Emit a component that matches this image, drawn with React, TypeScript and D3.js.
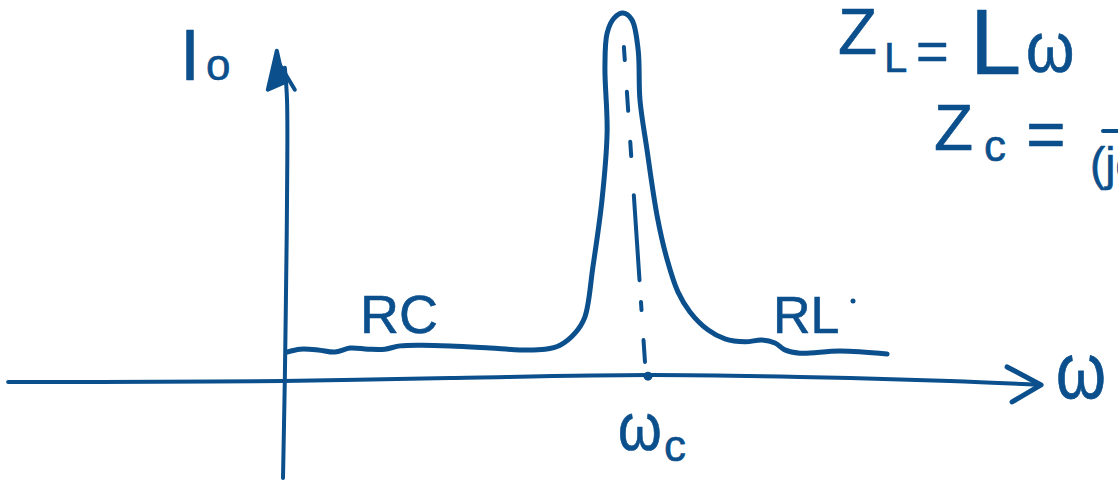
import React from "react";
import * as d3 from "d3";

// ω in units of ωc, I in units of the resonance peak
const curveOmega = [0.011, 0.047, 0.096, 0.142, 0.184, 0.233, 0.279, 0.321, 0.375, 0.458, 0.567, 0.649, 0.718, 0.759, 0.8, 0.827, 0.849, 0.874, 0.888, 0.882, 0.888, 0.907, 0.932, 0.956, 0.973, 0.978, 0.997, 1.025, 1.052, 1.082, 1.115, 1.164, 1.211, 1.266, 1.312, 1.348, 1.375, 1.416, 1.526, 1.655];
const curveI = [0.071, 0.079, 0.077, 0.071, 0.082, 0.079, 0.079, 0.088, 0.09, 0.088, 0.082, 0.077, 0.079, 0.09, 0.123, 0.167, 0.304, 0.488, 0.674, 0.852, 0.945, 0.986, 1.0, 0.981, 0.899, 0.762, 0.627, 0.444, 0.326, 0.236, 0.181, 0.132, 0.107, 0.099, 0.104, 0.096, 0.077, 0.068, 0.074, 0.066];

// hand-drawn axes (same units)
const xAxisOmega = [-0.753, -0.5, 0, 0.458, 1.0, 1.416, 1.827, 2.077];
const xAxisI = [-0.011, -0.011, -0.008, 0.0, 0.008, 0.003, -0.008, -0.019];
const yAxisOmega = [0.0, 0.003, 0.005, 0.008, 0.011, 0.011, 0.005];
const yAxisI = [-0.274, -0.115, -0.005, 0.214, 0.488, 0.762, 0.85];

// dashed marker at ωc: segments given as I ranges
const dashStartI = [0.907, 0.784, 0.647, 0.501, 0.208, 0.104];
const dashEndI = [0.871, 0.732, 0.608, 0.268, 0.186, 0.044];

const INK = "#0b4f8c";
const W = 1118;
const H = 481;

export default function App() {
  const x = d3.scaleLinear().domain([0, 1]).range([283, 648]);
  const y = d3.scaleLinear().domain([0, 1]).range([378, 13]);

  const curvePts: [number, number][] = curveOmega.map((w, i) => [x(w), y(curveI[i])]);
  const xAxisPts: [number, number][] = xAxisOmega.map((w, i) => [x(w), y(xAxisI[i])]);
  const yAxisPts: [number, number][] = yAxisOmega.map((w, i) => [x(w), y(yAxisI[i])]);

  const line = d3.line().curve(d3.curveCatmullRom.alpha(0.5));

  // dash line from near the peak (ω≈0.934) down to the axis (ω≈0.995)
  const dashX = d3.scaleLinear().domain([0.907, -0.005]).range([x(0.934), x(0.995)]);

  const tipX = xAxisPts[xAxisPts.length - 1];
  const tipY = yAxisPts[yAxisPts.length - 1];

  const font = "'Liberation Sans', 'DejaVu Sans', sans-serif";
  const textProps = { fill: INK, stroke: INK, strokeWidth: 0.6, strokeLinejoin: "round" as const, fontFamily: font };

  return (
    <svg width={W} height={H} style={{ position: "absolute", left: 0, top: 0, background: "#fff" }}>
      {/* x axis */}
      <path d={line(xAxisPts) || ""} fill="none" stroke={INK} strokeWidth={4} strokeLinecap="round" />
      <path
        d={`M${tipX[0] - 34},${tipX[1] - 18} L${tipX[0]},${tipX[1]} L${tipX[0] - 29},${tipX[1] + 17}`}
        fill="none" stroke={INK} strokeWidth={5} strokeLinecap="round" strokeLinejoin="round"
      />
      {/* y axis */}
      <path d={line(yAxisPts) || ""} fill="none" stroke={INK} strokeWidth={4} strokeLinecap="round" />
      <path
        d={`M${tipY[0] - 8},${tipY[1] - 17} L${tipY[0] - 17},${tipY[1] + 22} L${tipY[0] - 1},${tipY[1] + 15} Z`}
        fill={INK} stroke={INK} strokeWidth={4} strokeLinejoin="round"
      />
      <path
        d={`M${tipY[0] - 8},${tipY[1] - 8} L${tipY[0] + 10},${tipY[1] + 22}`}
        fill="none" stroke={INK} strokeWidth={4} strokeLinecap="round"
      />

      {/* resonance curve */}
      <path d={line(curvePts) || ""} fill="none" stroke={INK} strokeWidth={5} strokeLinecap="round" strokeLinejoin="round" />

      {/* dashed line at ωc */}
      {dashStartI.map((s, i) => (
        <line key={i} x1={dashX(s)} y1={y(s)} x2={dashX(dashEndI[i])} y2={y(dashEndI[i])}
          stroke={INK} strokeWidth={4} strokeLinecap="round" />
      ))}
      <circle cx={x(1)} cy={y(0.005)} r={4.5} fill={INK} />

      {/* labels */}
      <text x={180} y={80} {...textProps}>
        <tspan fontSize={72}>I</tspan>
        <tspan fontSize={44} dx={6}>o</tspan>
      </text>
      <text x={360} y={333} fontSize={54} {...textProps}>RC</text>
      <text x={773} y={333} fontSize={52} {...textProps}>RL</text>
      <circle cx={853} cy={301} r={2.5} fill={INK} />

      <text x={1056} y={398} fontSize={64} {...textProps} transform="translate(1056,398) scale(1,1.25) translate(-1056,-398)">ω</text>

      <text x={618} y={450} fontSize={56} {...textProps} transform="translate(618,450) scale(1,1.2) translate(-618,-450)">ω</text>
      <text x={664} y={461} fontSize={44} {...textProps}>c</text>

      {/* formulas */}
      <text x={838} y={54} fontSize={64} {...textProps}>Z</text>
      <text x={884} y={72} fontSize={42} {...textProps}>L</text>
      <text x={916} y={70} fontSize={56} {...textProps}>=</text>
      <text x={970} y={74} fontSize={92} {...textProps}>L</text>
      <text x={1026} y={72} fontSize={62} {...textProps} transform="translate(1026,72) scale(1,1.15) translate(-1026,-72)">ω</text>

      <text x={934} y={150} fontSize={64} {...textProps}>Z</text>
      <text x={984} y={161} fontSize={44} {...textProps}>c</text>
      <text x={1026} y={158} fontSize={68} {...textProps}>=</text>
      <line x1={1103} y1={131} x2={1200} y2={131} stroke={INK} strokeWidth={4} strokeLinecap="round" />
      <text x={1090} y={180} fontSize={46} {...textProps}>(jωC)</text>
    </svg>
  );
}
